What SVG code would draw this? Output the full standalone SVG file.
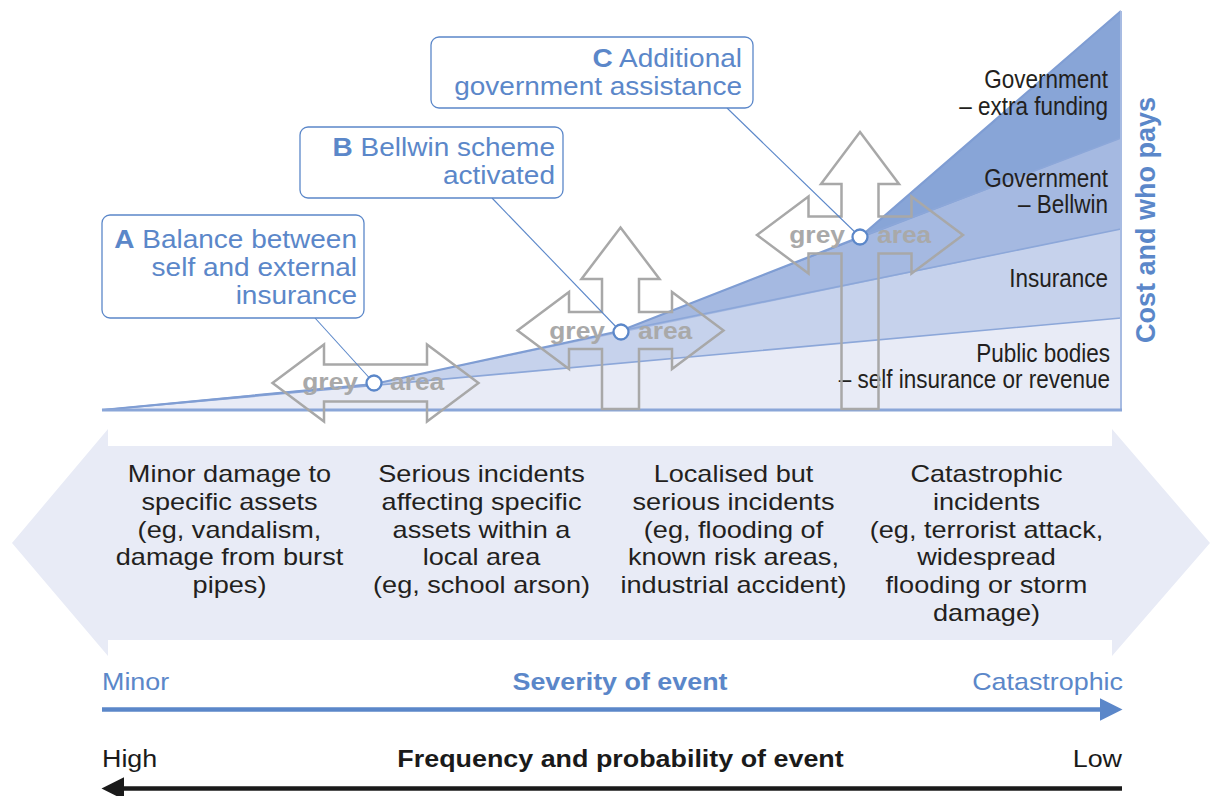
<svg xmlns="http://www.w3.org/2000/svg" width="1215" height="796" viewBox="0 0 1215 796">
<style>
text{font-family:"Liberation Sans",Arial,sans-serif}
.band{font-size:24px;fill:#231f20;text-anchor:middle}
.call{font-size:25px;fill:#5b87c9;text-anchor:end}
.callbox{fill:#fff;stroke:#5b87c9;stroke-width:1.3}
.lead{stroke:#5b87c9;stroke-width:1.1;fill:none}
.dot{fill:#fff;stroke:#5b87c9;stroke-width:2.3}
.garrow{fill:none;stroke:#a8a8a8;stroke-width:2.5;stroke-linejoin:miter}
.gtxt{font-size:24px;font-weight:bold;fill:#a9a9a9}
.rlab{font-size:25px;fill:#231f20;text-anchor:end}
.edge{fill:none;stroke:#7f9dd3;stroke-width:2.2}
.inner{fill:none;stroke:#8ca7d9;stroke-width:1.6}
.axis{font-size:24px}
</style>
<defs>
<marker id="hb" markerWidth="6" markerHeight="5" refX="0" refY="2.5" orient="auto" markerUnits="strokeWidth"><path d="M0,0 L5,2.5 L0,5 Z" fill="#5b87c9"/></marker>
<marker id="hk" markerWidth="6" markerHeight="5" refX="0" refY="2.5" orient="auto" markerUnits="strokeWidth"><path d="M0,0 L5,2.5 L0,5 Z" fill="#1a1a1a"/></marker>
</defs>

<g id="band">
<polygon points="12,543 108,429 108,446 1112,446 1112,429 1210,543 1112,656 1112,640 108,640 108,656" fill="#e8ebf6"/>
</g>

<g id="chart">
<polygon points="102,410 374,384 620,331 860,237 1121,11 1121,410" fill="#88a5d7"/>
<polygon points="102,410 374,384 620,331 1121,138 1121,410" fill="#a5b9e1"/>
<polygon points="102,410 374,384 1121,229 1121,410" fill="#c6d2ec"/>
<polygon points="102,410 1121,318 1121,410" fill="#e8ebf6"/>
<polyline class="inner" points="860,237 1121,138"/>
<polyline class="inner" points="620,331 1121,229"/>
<polyline class="inner" points="374,384 102,410 1121,318"/>
<polyline class="edge" points="102,410 374,384 620,331 860,237 1121,11"/>
<line x1="1121" y1="11" x2="1121" y2="411" stroke="#a7bbe2" stroke-width="2"/>
<line x1="102" y1="410" x2="1122" y2="410" stroke="#8aa6d8" stroke-width="3"/>
</g>

<g id="layer-labels">
<text class="rlab" transform="translate(1108 88) scale(0.9 1)">Government</text>
<text class="rlab" transform="translate(1108 115) scale(0.9 1)">– extra funding</text>
<text class="rlab" transform="translate(1108 187) scale(0.9 1)">Government</text>
<text class="rlab" transform="translate(1108 213) scale(0.9 1)">– Bellwin</text>
<text class="rlab" transform="translate(1108 287) scale(0.9 1)">Insurance</text>
<text class="rlab" transform="translate(1110 362) scale(0.9 1)">Public bodies</text>
<text class="rlab" transform="translate(1110 388) scale(0.9 1)">– self insurance or revenue</text>
<text transform="translate(1155 220) rotate(-90)" text-anchor="middle" font-size="27" font-weight="bold" fill="#5b87c9">Cost and who pays</text>
</g>

<g id="grey-A">
<polygon class="garrow" points="272.5,383 324,344.5 324,364.5 427,364.5 427,344.5 478.5,383 427,421.5 427,401.5 324,401.5 324,421.5"/>
<text class="gtxt" text-anchor="end" transform="translate(358 390) scale(1.1 1)">grey</text>
<text class="gtxt" transform="translate(390 390) scale(1.1 1)">area</text>
</g>
<g id="grey-B">
<polygon class="garrow" points="620.5,227.5 659.5,279 639,279 639,312 672,312 672,292 723.5,330.5 672,369 672,349 639,349 639,409 602,409 602,349 569,349 569,369 517.5,330.5 569,292 569,312 602,312 602,279 581.5,279"/>
<text class="gtxt" text-anchor="end" transform="translate(605 339) scale(1.1 1)">grey</text>
<text class="gtxt" transform="translate(638 339) scale(1.1 1)">area</text>
</g>
<g id="grey-C">
<polygon class="garrow" points="860,132 899,184 878.5,184 878.5,216.5 911.5,216.5 911.5,196.5 963,235 911.5,273.5 911.5,253.5 878.5,253.5 878.5,409 841.5,409 841.5,253.5 808.5,253.5 808.5,273.5 757,235 808.5,196.5 808.5,216.5 841.5,216.5 841.5,184 821,184"/>
<text class="gtxt" text-anchor="end" transform="translate(845 243) scale(1.1 1)">grey</text>
<text class="gtxt" transform="translate(877 243) scale(1.1 1)">area</text>
</g>

<g id="connectors">
<line class="lead" x1="315" y1="318" x2="374" y2="383"/>
<line class="lead" x1="492" y1="198" x2="621" y2="332"/>
<line class="lead" x1="727" y1="108" x2="860" y2="237"/>
</g>

<g id="points">
<circle class="dot" cx="374" cy="383" r="7.5"/>
<circle class="dot" cx="621" cy="332" r="7.5"/>
<circle class="dot" cx="860" cy="237" r="7.5"/>
</g>

<g id="callout-A">
<rect class="callbox" x="102" y="215" width="262" height="103" rx="8"/>
<text class="call" transform="translate(357 248) scale(1.12 1)"><tspan font-weight="900">A</tspan> Balance between</text>
<text class="call" transform="translate(357 276) scale(1.12 1)">self and external</text>
<text class="call" transform="translate(357 304) scale(1.12 1)">insurance</text>
</g>
<g id="callout-B">
<rect class="callbox" x="300" y="127" width="263" height="71" rx="8"/>
<text class="call" transform="translate(555 156) scale(1.12 1)"><tspan font-weight="900">B</tspan> Bellwin scheme</text>
<text class="call" transform="translate(555 184) scale(1.12 1)">activated</text>
</g>
<g id="callout-C">
<rect class="callbox" x="431" y="37" width="322" height="71" rx="8"/>
<text class="call" transform="translate(742 67) scale(1.12 1)"><tspan font-weight="900">C</tspan> Additional</text>
<text class="call" transform="translate(742 95) scale(1.12 1)">government assistance</text>
</g>

<g id="col1" transform="translate(229.5 0) scale(1.13 1)">
<text class="band" x="0" y="482">Minor damage to</text>
<text class="band" x="0" y="510">specific assets</text>
<text class="band" x="0" y="538">(eg, vandalism,</text>
<text class="band" x="0" y="565">damage from burst</text>
<text class="band" x="0" y="593">pipes)</text>
</g>
<g id="col2" transform="translate(481.5 0) scale(1.13 1)">
<text class="band" x="0" y="482">Serious incidents</text>
<text class="band" x="0" y="510">affecting specific</text>
<text class="band" x="0" y="538">assets within a</text>
<text class="band" x="0" y="565">local area</text>
<text class="band" x="0" y="593">(eg, school arson)</text>
</g>
<g id="col3" transform="translate(733.5 0) scale(1.13 1)">
<text class="band" x="0" y="482">Localised but</text>
<text class="band" x="0" y="510">serious incidents</text>
<text class="band" x="0" y="538">(eg, flooding of</text>
<text class="band" x="0" y="565">known risk areas,</text>
<text class="band" x="0" y="593">industrial accident)</text>
</g>
<g id="col4" transform="translate(986.5 0) scale(1.13 1)">
<text class="band" x="0" y="482">Catastrophic</text>
<text class="band" x="0" y="510">incidents</text>
<text class="band" x="0" y="538">(eg, terrorist attack,</text>
<text class="band" x="0" y="565">widespread</text>
<text class="band" x="0" y="593">flooding or storm</text>
<text class="band" x="0" y="621">damage)</text>
</g>

<g id="severity-axis">
<line x1="102" y1="709.5" x2="1100" y2="709.5" stroke="#5b87c9" stroke-width="4.5" marker-end="url(#hb)"/>
<text class="axis" fill="#5b87c9" transform="translate(102 690) scale(1.12 1)">Minor</text>
<text class="axis" fill="#5b87c9" font-weight="bold" text-anchor="middle" transform="translate(620 690) scale(1.12 1)">Severity of event</text>
<text class="axis" fill="#5b87c9" text-anchor="end" transform="translate(1123 690) scale(1.12 1)">Catastrophic</text>
</g>
<g id="frequency-axis">
<line x1="1122" y1="788.5" x2="124" y2="788.5" stroke="#1a1a1a" stroke-width="4.5" marker-end="url(#hk)"/>
<text class="axis" fill="#1a1a1a" transform="translate(102 767) scale(1.12 1)">High</text>
<text class="axis" fill="#1a1a1a" font-weight="bold" text-anchor="middle" transform="translate(620.5 767) scale(1.12 1)">Frequency and probability of event</text>
<text class="axis" fill="#1a1a1a" text-anchor="end" transform="translate(1122 767) scale(1.12 1)">Low</text>
</g>
</svg>
